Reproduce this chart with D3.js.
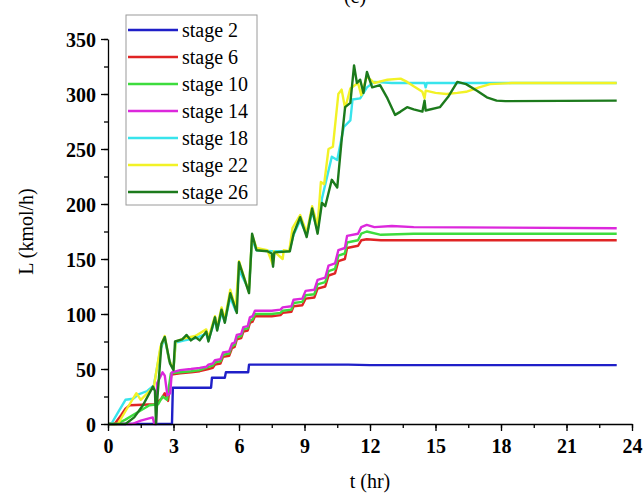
<!doctype html>
<html>
  <head>
    <meta charset="utf-8">
    <title>L vs t</title>
    <style type="text/css">
		body{
			margin: 0px;
			background: #ffffff;
		}
		#graph{
			width: 644px;
			height: 494px;
			display: block;
		}
		.tick text{
			font-family: "Liberation Serif", "DejaVu Serif", serif;
			font-weight: bold;
			font-size: 20px;
		}
		.label{
			font-family: "Liberation Serif", "DejaVu Serif", serif;
			font-size: 20px;
		}
    </style>
    <script src="https://d3js.org/d3.v7.min.js"></script>
  </head>
  <body>
    <svg id="graph"></svg>
    <script type="text/javascript">
		// data: [t (hr), L (kmol/h)]
		var stage2 = [[0,0],[2.93,0],[2.97,33],[4.72,33],[4.76,42],[5.35,42],[5.4,47],[6.42,47],[6.46,54],[11,54],[12,53.5],[23.3,53.5]];
		var stage6 = [[0,0],[0.3,0],[0.6,8],[0.8,14],[1.0,17],[2.15,18],[2.45,23],[2.6,28],[2.75,21],[2.9,45],[3.3,46],[3.8,47],[4.2,48],[4.6,50],[4.8,51],[4.9,54],[5.15,55],[5.27,61],[5.55,62],[5.68,69],[5.8,70],[5.9,77],[6.1,78],[6.2,84],[6.4,85],[6.5,92],[6.62,93],[6.73,98],[7.5,98],[7.9,99],[8.0,101],[8.4,102],[8.5,107],[8.9,108],[9.05,114],[9.45,115],[9.6,123],[9.95,125],[10.1,135],[10.4,137],[10.55,148],[10.85,150],[10.95,160],[11.45,162],[11.6,167],[11.85,168],[12.5,167],[14,167],[23.3,167]];
		var stage10 = [[0,0],[0.4,0],[0.8,4],[1.3,10],[1.9,17],[2.3,18],[2.5,25],[2.7,22],[2.88,46],[3.3,47],[3.8,48],[4.2,49],[4.6,52],[4.8,53],[4.9,56],[5.15,57],[5.27,63],[5.55,64],[5.68,71],[5.8,72],[5.9,79],[6.1,80],[6.2,86],[6.4,87],[6.5,94],[6.62,95],[6.73,100],[7.5,100],[7.9,101],[8.0,103],[8.4,104],[8.5,110],[8.9,111],[9.05,117],[9.45,118],[9.6,127],[9.95,129],[10.1,139],[10.4,141],[10.55,153],[10.85,155],[10.95,165],[11.45,167],[11.6,173],[11.85,175],[12.5,172],[14,173],[23.3,173]];
		var stage14 = [[0,0],[1.1,0],[1.5,3],[2.05,6],[2.12,0],[2.2,0],[2.25,37],[2.5,47],[2.6,44],[2.72,26],[2.85,28],[2.92,47],[3.3,49],[3.8,50],[4.2,51],[4.5,52],[4.6,54],[4.8,55],[4.9,58],[5.15,59],[5.27,65],[5.55,66],[5.68,73],[5.8,74],[5.9,81],[6.1,82],[6.2,88],[6.4,89],[6.5,97],[6.62,98],[6.73,103],[7.5,103],[7.9,104],[8.0,106],[8.4,107],[8.5,113],[8.9,114],[9.05,121],[9.45,122],[9.6,131],[9.95,133],[10.1,144],[10.4,146],[10.55,158],[10.85,160],[10.95,171],[11.45,173],[11.6,179],[11.85,181],[12.2,179],[13,180],[14,179],[23.3,178]];
		var stage18 = [[0,0],[0.15,0],[0.5,12],[0.8,22],[1.15,23],[1.4,27],[1.8,30],[2.1,35],[2.4,68],[2.6,78],[2.8,58],[3.0,50],[3.1,74],[3.5,76],[4.0,78],[4.5,82],[4.6,76],[4.9,95],[5.0,86],[5.2,101],[5.35,93],[5.6,115],[5.85,103],[6.0,140],[6.45,122],[6.6,168],[6.8,158],[7.5,157],[8.3,157],[8.5,172],[8.8,185],[9.1,172],[9.35,193],[9.6,176],[9.8,205],[10.25,243],[10.5,240],[10.8,270],[11.1,276],[11.2,295],[11.55,296],[11.86,306],[12.2,311],[13,310],[14.5,310],[14.55,306],[14.6,310],[23.3,310]];
		var stage22 = [[0,0],[0.45,0],[0.9,15],[1.3,28],[1.5,22],[1.9,30],[2.1,34],[2.4,70],[2.6,80],[2.8,58],[3.0,50],[3.1,75],[3.5,78],[4.0,80],[4.5,86],[4.6,78],[4.9,98],[5.0,88],[5.2,106],[5.35,95],[5.6,122],[5.85,105],[6.0,148],[6.45,120],[6.6,172],[6.8,160],[7.3,158],[7.55,145],[7.6,157],[8.0,150],[8.05,158],[8.3,157],[8.45,178],[8.8,190],[9.1,174],[9.35,198],[9.6,180],[9.75,220],[9.9,218],[10.1,250],[10.3,252],[10.55,300],[10.7,304],[10.86,287],[11.1,305],[11.45,310],[11.6,299],[11.85,316],[12.2,310],[12.8,313],[13.4,314],[13.7,311],[14,307],[14.4,302],[14.5,296],[14.55,303],[15,301],[15.5,300],[16,301],[16.4,302],[17,306],[17.5,309],[18.5,310],[23.3,310]];
		var stage26 = [[0,0],[0.8,0],[1.2,6],[1.6,17],[2.06,34],[2.15,30],[2.2,0],[2.25,20],[2.45,73],[2.6,79],[2.84,55],[3.0,49],[3.07,75],[3.4,77],[3.6,81],[3.8,76],[4.0,79],[4.2,76],[4.5,84],[4.6,75],[4.9,97],[5.0,85],[5.2,104],[5.35,92],[5.6,119],[5.9,101],[6.0,147],[6.46,119],[6.6,173],[6.8,158],[7.3,157],[7.5,155],[7.56,143],[7.62,156],[8.33,157],[8.5,173],[8.8,188],[9.1,170],[9.35,196],[9.6,173],[9.8,201],[9.95,198],[10.25,222],[10.5,215],[10.7,258],[10.86,288],[11.1,292],[11.27,326],[11.4,310],[11.55,313],[11.7,301],[11.86,320],[12.1,306],[12.46,308],[12.8,296],[13.15,281],[13.4,284],[13.7,288],[14.0,286],[14.4,284],[14.5,294],[14.55,285],[15.2,288],[15.6,298],[16.0,311],[16.4,309],[16.9,303],[17.35,297],[17.8,294],[18.2,293.5],[23.3,294]];

		var seriesNames = ["stage 2", "stage 6", "stage 10", "stage 14", "stage 18", "stage 22", "stage 26"];
		var seriesData = [stage2, stage6, stage10, stage14, stage18, stage22, stage26];
		var seriesColors = ["#1f1fc8", "#e02424", "#3ddc3d", "#dc28dc", "#38e4ec", "#f2f226", "#1c7a1c"];

		var xTicks = [0, 3, 6, 9, 12, 15, 18, 21, 24];
		var yTicks = [0, 50, 100, 150, 200, 250, 300, 350];

		// plot area (note: "top" is taken by window.top)
		var plotLeft = 108, plotRight = 632, plotTop = 39, plotBottom = 424;

		var svg = d3.select("#graph");

		var scaleX = d3.scaleLinear().domain([0, 24]).range([plotLeft, plotRight]);
		var scaleY = d3.scaleLinear().domain([0, 350]).range([plotBottom, plotTop]);

		var line = d3.line()
			.x(function(d){ return scaleX(d[0]); })
			.y(function(d){ return scaleY(d[1]); });

		// title, mostly cut off at the top edge
		svg.append("text")
			.attr("class", "label")
			.attr("x", 355)
			.attr("y", 3)
			.attr("text-anchor", "middle")
			.text("(c)");

		// series
		for(var i = 0; i < seriesData.length; i++){
			svg.append("path")
				.attr("d", line(seriesData[i]))
				.attr("stroke", seriesColors[i])
				.attr("stroke-width", 2.4)
				.attr("stroke-linejoin", "round")
				.attr("fill", "none");
		}

		// minor ticks
		var minorX = d3.range(0, 24.01, 1.5);
		var minorY = d3.range(0, 350.01, 25);
		svg.append("g")
			.attr("transform", "translate(0," + plotBottom + ")")
			.call(d3.axisBottom(scaleX).tickValues(minorX).tickSize(4).tickFormat(""))
			.call(function(g){ g.select(".domain").remove(); });
		svg.append("g")
			.attr("transform", "translate(" + plotLeft + ",0)")
			.call(d3.axisLeft(scaleY).tickValues(minorY).tickSize(4).tickFormat(""))
			.call(function(g){ g.select(".domain").remove(); });

		// major axes
		var axisX = svg.append("g")
			.attr("transform", "translate(0," + plotBottom + ")")
			.call(d3.axisBottom(scaleX).tickValues(xTicks).tickSize(7).tickSizeOuter(0).tickPadding(5));
		var axisY = svg.append("g")
			.attr("transform", "translate(" + plotLeft + ",0)")
			.call(d3.axisLeft(scaleY).tickValues(yTicks).tickSize(7).tickSizeOuter(0).tickPadding(5));
		svg.selectAll(".domain, .tick line").attr("stroke", "#000").attr("stroke-width", 1.3);
		svg.selectAll(".tick text").attr("fill", "#000");
		axisX.selectAll(".tick text").attr("dy", "0.85em");
		axisY.selectAll(".tick text").attr("dy", "0.35em");

		// axis titles
		svg.append("text")
			.attr("class", "label")
			.attr("x", scaleX(12))
			.attr("y", 488)
			.attr("text-anchor", "middle")
			.text("t (hr)");
		svg.append("text")
			.attr("class", "label")
			.attr("transform", "translate(33," + scaleY(175) + ") rotate(-90)")
			.attr("text-anchor", "middle")
			.text("L (kmol/h)");

		// legend
		var legend = svg.append("g");
		legend.append("rect")
			.attr("x", 126)
			.attr("y", 15)
			.attr("width", 131)
			.attr("height", 190)
			.attr("fill", "#fff")
			.attr("stroke", "#9a9a9a")
			.attr("stroke-width", 1);
		for(var j = 0; j < seriesNames.length; j++){
			var ly = 30 + j * 27;
			legend.append("line")
				.attr("x1", 128)
				.attr("x2", 178)
				.attr("y1", ly)
				.attr("y2", ly)
				.attr("stroke", seriesColors[j])
				.attr("stroke-width", 2.4);
			legend.append("text")
				.attr("class", "label")
				.attr("x", 182)
				.attr("y", ly)
				.attr("dy", "0.33em")
				.text(seriesNames[j]);
		}
    </script>
  </body>
</html>
